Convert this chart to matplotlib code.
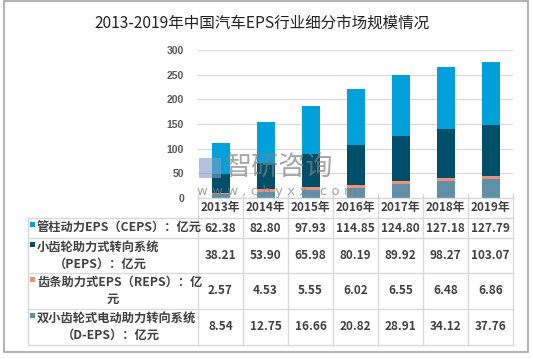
import matplotlib
matplotlib.use("Agg")
import matplotlib.pyplot as plt
from matplotlib.patches import Rectangle

plt.rcParams['font.family'] = ['Noto Sans CJK SC', 'DejaVu Sans']

title = "2013-2019年中国汽车EPS行业细分市场规模情况"
years = ["2013年", "2014年", "2015年", "2016年", "2017年", "2018年", "2019年"]
ceps = [62.38, 82.80, 97.93, 114.85, 124.80, 127.18, 127.79]
peps = [38.21, 53.90, 65.98, 80.19, 89.92, 98.27, 103.07]
reps = [2.57, 4.53, 5.55, 6.02, 6.55, 6.48, 6.86]
deps = [8.54, 12.75, 16.66, 20.82, 28.91, 34.12, 37.76]
labels = ["管柱动力EPS（CEPS）：亿元",
          "小齿轮助力式转向系统\n（PEPS）：亿元",
          "齿条助力式EPS（REPS）：亿\n元",
          "双小齿轮式电动助力转向系统\n（D-EPS）：亿元"]
yticks = [0, 50, 100, 150, 200, 250, 300]

colors = {"ceps": "#00A1DB", "peps": "#004F6A", "reps": "#F0907A", "deps": "#5E90A8"}

W, H = 533, 359
fig = plt.figure(figsize=(W / 100, H / 100), dpi=100)
fig.patch.set_facecolor("white")

# main plot area (pixel geometry)
L, R, T, B = 198, 513, 50, 198
ax = fig.add_axes([L / W, 1 - B / H, (R - L) / W, (B - T) / H])
x = list(range(len(years)))
bw = 0.40
bottom = [0] * len(years)
order = [("deps", deps), ("reps", reps), ("peps", peps), ("ceps", ceps)]
for key, vals in order:
    ax.bar(x, vals, bw, bottom=bottom, color=colors[key], zorder=3)
    bottom = [b + v for b, v in zip(bottom, vals)]
ax.set_xlim(-0.5, len(years) - 0.5)
ax.set_ylim(0, 300)
ax.set_yticks(yticks)
ax.set_yticklabels([str(t) for t in yticks], family="Liberation Sans",
                   fontweight="bold", fontsize=7.5, color="#595959")
ax.tick_params(axis="y", length=0, pad=10)
ax.set_xticks([])
ax.grid(axis="y", color="#D9D9D9", linewidth=0.9, zorder=0)
for s in ax.spines.values():
    s.set_visible(False)

# overlay in pixel coordinates
ov = fig.add_axes([0, 0, 1, 1], zorder=5)
ov.set_xlim(0, W)
ov.set_ylim(H, 0)
ov.axis("off")
ov.patch.set_alpha(0)

# outer border
ov.add_patch(Rectangle((4, 1), 524, 351, fill=False, edgecolor="#A6A6A6", lw=1.2))

# title
ov.text(262, 23, title, ha="center", va="center", fontsize=11.2, color="#222222")

# watermark
ov.text(225, 167, "智研咨询", ha="left", va="center", fontsize=19.5, color="#7F7F7F", alpha=0.7)
ov.text(197, 191, "w w w . c h y x x . c o m", ha="left", va="center", fontsize=9.5,
        family="DejaVu Sans", color="#7F7F7F", alpha=0.7)
ov.add_patch(Rectangle((199, 158), 22, 20, facecolor="#7F9CC0", alpha=0.6, lw=0))

# table geometry
gc = "#D9D9D9"
colL = [L + i * (R - L) / len(years) for i in range(len(years) + 1)]
rows = [198, 218, 238, 273, 309, 345]
labL = 28
ov.plot([L, R], [rows[0], rows[0]], color=gc, lw=1)
for yy in rows[1:]:
    ov.plot([labL, R], [yy, yy], color=gc, lw=1)
for i, xx in enumerate(colL):
    ov.plot([xx, xx], [194, rows[-1]], color=gc, lw=1)
ov.plot([labL, labL], [rows[1], rows[-1]], color=gc, lw=1)

tc = "#404040"
for i, yr in enumerate(years):
    cx = (colL[i] + colL[i + 1]) / 2
    ov.text(cx, (rows[0] + rows[1]) / 2, yr, ha="center", va="center",
            fontsize=8.5, fontweight="bold", color=tc)

series = [ceps, peps, reps, deps]
skeys = ["ceps", "peps", "reps", "deps"]
line2_cx = [None, 100, 113, 111]
for r, (vals, key, lab) in enumerate(zip(series, skeys, labels)):
    y0, y1 = rows[r + 1], rows[r + 2]
    cy = (y0 + y1) / 2
    for i, v in enumerate(vals):
        cx = (colL[i] + colL[i + 1]) / 2
        ov.text(cx, cy, f"{v:.2f}", ha="center", va="center",
                fontsize=8.5, fontweight="bold", color=tc)
    parts = lab.split("\n")
    ov.add_patch(Rectangle((30, y0 + 4), 5, 5, facecolor=colors[key], lw=0))
    if len(parts) == 1:
        ov.text(37, cy, parts[0], ha="left", va="center", fontsize=8.8,
                fontweight="bold", color=tc)
    else:
        ov.text(37, y0 + 9.5, parts[0], ha="left", va="center", fontsize=8.8,
                fontweight="bold", color=tc)
        ov.text(line2_cx[r], y0 + 26, parts[1], ha="center", va="center",
                fontsize=8.8, fontweight="bold", color=tc)

fig.savefig("out.png", dpi=100)
